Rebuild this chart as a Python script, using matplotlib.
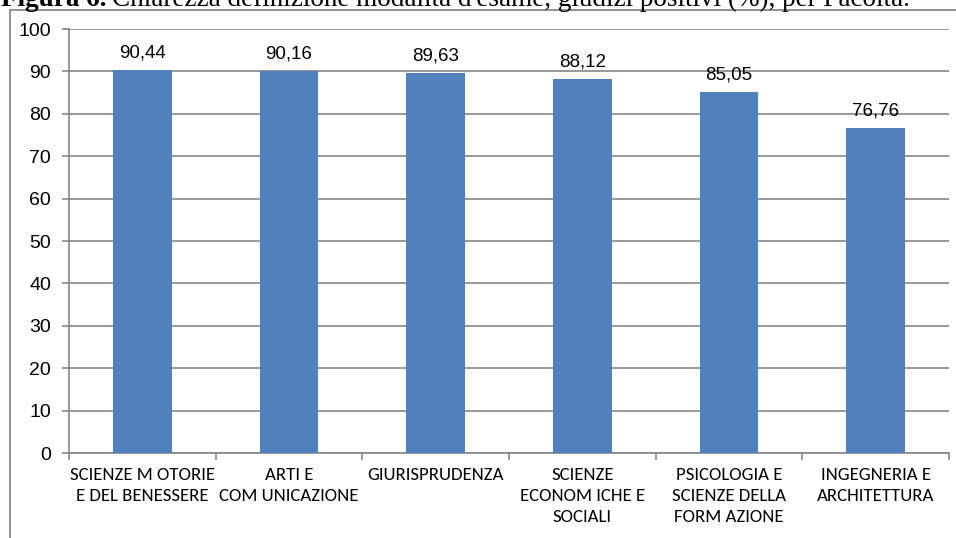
import numpy as np
import matplotlib
matplotlib.use("Agg")
import matplotlib.pyplot as plt
from matplotlib.patches import Rectangle

# data
facolta = ["SCIENZE M OTORIE\nE DEL BENESSERE", "ARTI E\nCOM UNICAZIONE", "GIURISPRUDENZA",
           "SCIENZE\nECONOM ICHE E\nSOCIALI", "PSICOLOGIA E\nSCIENZE DELLA\nFORM AZIONE",
           "INGEGNERIA E\nARCHITETTURA"]
valori = [90.44, 90.16, 89.63, 88.12, 85.05, 76.76]
etichette = ["90,44", "90,16", "89,63", "88,12", "85,05", "76,76"]
yticks = [0, 10, 20, 30, 40, 50, 60, 70, 80, 90, 100]

sans = ["Liberation Sans", "DejaVu Sans"]
narrow = ["Carlito", "Liberation Sans Narrow", "Lato", "DejaVu Sans"]
serif = ["Liberation Serif", "DejaVu Serif"]

W, H = 956, 538
fig = plt.figure(figsize=(W / 100, H / 100), dpi=100)

# plot area in pixels: left 69, right 949, top 29, bottom 453
ax = fig.add_axes([69 / W, 1 - 453 / H, 880 / W, 424 / H])
grey = "#868686"

x = np.arange(len(valori))
ax.bar(x, valori, width=0.40, color="#4F81BD", zorder=3)
for xi, v, t in zip(x, valori, etichette):
    ax.text(xi, v + 2.0, t, ha="center", va="bottom", fontsize=13.5, family=sans, zorder=4)

ax.set_xlim(-0.5, len(valori) - 0.5)
ax.set_ylim(0, 100)
ax.set_yticks(yticks)
ax.set_yticklabels([str(v) for v in yticks], fontsize=14, family=sans)
ax.yaxis.grid(True, color=grey, linewidth=1.2, zorder=0)
ax.set_xticks(np.arange(len(valori) + 1) - 0.5)
ax.set_xticklabels([])
ax.set_xticks(x, minor=True)
ax.set_xticklabels(facolta, minor=True, fontsize=13.5, linespacing=1.4, family=narrow)
ax.tick_params(axis="x", which="minor", length=0, pad=10)
ax.tick_params(axis="x", which="major", length=5, color=grey, width=1.2)
ax.tick_params(axis="y", length=5, color=grey, width=1.2, pad=8)
for s in ["top", "right"]:
    ax.spines[s].set_visible(False)
for s in ["left", "bottom"]:
    ax.spines[s].set_color(grey)
    ax.spines[s].set_linewidth(1.2)

# outer chart border
fig.patches.append(Rectangle((10 / W, -0.01), 1.05, 1 - 10 / H + 0.01, transform=fig.transFigure,
                             fill=False, edgecolor="#7f7f7f", linewidth=1.2))

# caption, cut at top of the picture
t1 = fig.text(1 / W, 1 - 6 / H, "Figura 6.", fontsize=19.5, fontweight="bold",
              family=serif, va="baseline", ha="left")
fig.canvas.draw()
bb = t1.get_window_extent()
fig.text((bb.x1 + 5) / W, 1 - 6 / H,
         "Chiarezza definizione modalità d'esame, giudizi positivi (%), per Facoltà.",
         fontsize=19.5, family=serif, va="baseline", ha="left")

fig.savefig("out.png", dpi=100)
